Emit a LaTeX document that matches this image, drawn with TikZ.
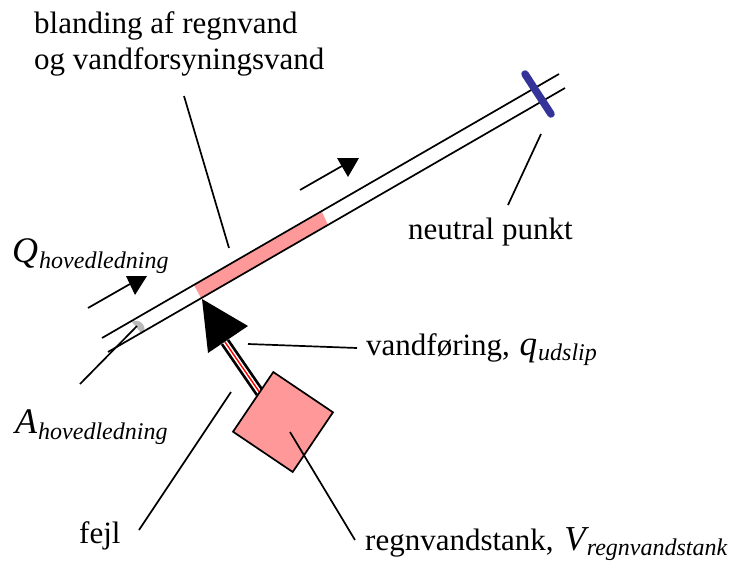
\documentclass[tikz,border=0pt]{standalone}
\usepackage{fontspec}
\setmainfont{Liberation Serif}
\definecolor{pinkfill}{HTML}{FF9999}
\definecolor{bluebar}{HTML}{333399}
\tikzset{
  leader/.style={draw=black,line width=1.7pt},
  pipe/.style={draw=black,line width=1.7pt},
  lab/.style={inner sep=0pt,anchor=base west,font=\fontsize{31}{31}\selectfont},
  sym/.style={inner sep=0pt,anchor=base west}
}
\newcommand{\bigsym}[2]{{\fontsize{36}{36}\selectfont\itshape #1}\hspace{1pt}\raisebox{-6.5pt}{\fontsize{24}{24}\selectfont\itshape #2}}
\newcommand{\midsym}[2]{{\fontsize{35}{35}\selectfont\itshape #1}\hspace{1pt}\raisebox{-5.5pt}{\fontsize{24}{24}\selectfont\itshape #2}}
\begin{document}
\begin{tikzpicture}[x=1pt,y=-1pt]
\useasboundingbox (0,0) rectangle (731,560);
% pipe
\fill[pinkfill] (194,285) -- (322,212) -- (328,225) -- (201,298) -- cycle;
\fill[gray!55] (132,322) .. controls (140,317) and (149,328) .. (142,334) -- cycle;
\coordinate (u1) at (102,338); \coordinate (u2) at (559,74);
\coordinate (l1) at (108,352); \coordinate (l2) at (565,88);
\draw[pipe] (u1) -- (u2);
\draw[pipe] (l1) -- (l2);
\coordinate (b1) at (525,74); \coordinate (b2) at (551,114);
\draw[bluebar,line width=7.5pt,line cap=round] (b1) -- (b2);
% flow arrows
\coordinate (f1) at (88,308); \coordinate (f2) at (130,284);
\draw[pipe] (f1) -- (f2);
\fill (126,276) -- (147,276) -- (135,295) -- cycle;
\coordinate (g1) at (300,190); \coordinate (g2) at (342,166);
\draw[pipe] (g1) -- (g2);
\fill (337,158) -- (359,158) -- (348,177) -- cycle;
% tank and leak
\coordinate (s1) at (225,342); \coordinate (s2) at (260,393);
\draw[line width=10pt] (s1) -- (s2);
\draw[white,line width=4.5pt] (s1) -- (s2);
\draw[red,line width=1.4pt] (s1) -- (s2);
\fill (202,299) -- (248,326) -- (208,353) -- cycle;
\node[draw=black,fill=pinkfill,line width=1.7pt,minimum size=72pt,rotate=-34,inner sep=0pt] (tank) at (283,422) {};
% leaders
\coordinate (a1) at (184,96); \coordinate (a2) at (229,248);
\draw[leader] (a1) -- (a2);
\coordinate (n1) at (541,134); \coordinate (n2) at (508,205);
\draw[leader] (n1) -- (n2);
\coordinate (v1) at (248,344); \coordinate (v2) at (357,348);
\draw[leader] (v1) -- (v2);
\coordinate (e1) at (231,392); \coordinate (e2) at (139,530);
\draw[leader] (e1) -- (e2);
\coordinate (r1) at (290,432); \coordinate (r2) at (355,540);
\draw[leader] (r1) -- (r2);
\coordinate (h1) at (137,326); \coordinate (h2) at (80,384);
\draw[leader] (h1) -- (h2);
% labels
\node[lab] (t1) at (34,33) {blanding af regnvand};
\node[lab] (t2) at (34,69) {og vandforsyningsvand};
\node[lab] (t3) at (408,239) {neutral punkt};
\node[lab] (t4) at (366,355) {vandføring,\hspace{2pt} \midsym{q}{udslip}};
\node[lab] (t5) at (79,543) {fejl};
\node[lab] (t6) at (365,550) {regnvandstank,\hspace{3pt} \midsym{V}{regnvandstank}};
\node[sym] (t7) at (12,262) {\bigsym{Q}{hovedledning}};
\node[sym] (t8) at (15,433) {\bigsym{A}{hovedledning}};
\end{tikzpicture}
\end{document}
